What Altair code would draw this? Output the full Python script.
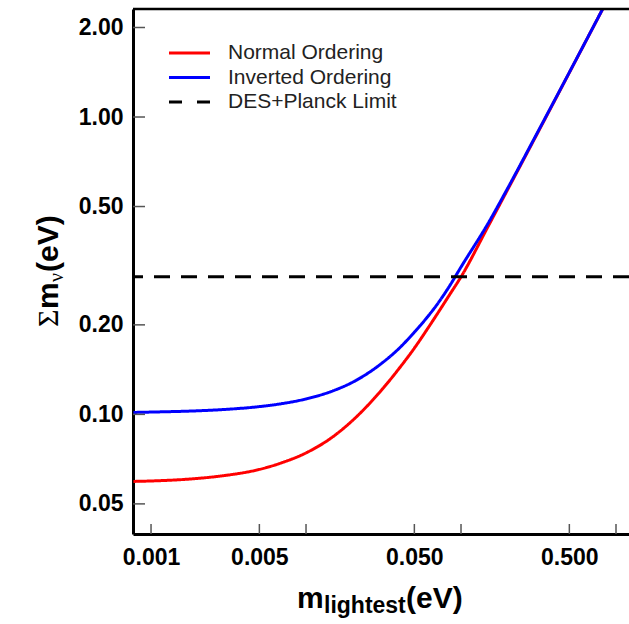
import altair as alt
import pandas as pd

# ---- data ----
m_lightest = [0.00077, 0.001, 0.002, 0.003, 0.005, 0.007, 0.01, 0.015, 0.02, 0.03,
              0.04, 0.05, 0.06, 0.07, 0.085, 0.1, 0.15, 0.2, 0.3, 0.5, 0.8, 1.2]
sum_normal = [0.0595, 0.0597, 0.0609, 0.0623, 0.0653, 0.0688, 0.0742, 0.0843, 0.0955, 0.119,
              0.143, 0.167, 0.192, 0.217, 0.254, 0.29, 0.43, 0.57, 0.85, 1.41, 2.25, 3.37]
sum_inverted = [0.1015, 0.1018, 0.1028, 0.1039, 0.1062, 0.1087, 0.1127, 0.1201, 0.1283, 0.147,
                0.167, 0.189, 0.211, 0.234, 0.272, 0.313, 0.44, 0.576, 0.855, 1.413, 2.252, 3.372]
limit_value = [0.29]

series_names = ["Normal Ordering", "Inverted Ordering", "DES+Planck Limit"]
series_colors = ["#ff0000", "#0000ff", "#000000"]
series_dashes = [[1, 0], [1, 0], [16, 11]]
legend_dashes = [[1, 0], [1, 0], [13, 15]]

x_tick_values = [0.001, 0.005, 0.01, 0.05, 0.1, 0.5, 1.0]
x_label_values = [0.001, 0.005, 0.05, 0.5]
y_tick_values = [0.05, 0.1, 0.2, 0.5, 1.0, 2.0]

# ---- layout ----
W, H = 496, 525
X_DOMAIN = [0.000765, 1.213]
Y_DOMAIN = [0.0396, 2.308]
FONT = "Liberation Sans"

curves = pd.DataFrame({
    "m": m_lightest + m_lightest,
    "s": sum_normal + sum_inverted,
    "series": [series_names[0]] * len(m_lightest) + [series_names[1]] * len(m_lightest),
})
limit_df = pd.DataFrame({"s": limit_value, "series": [series_names[2]]})

xscale = alt.Scale(type="log", domain=X_DOMAIN, nice=False)
yscale = alt.Scale(type="log", domain=Y_DOMAIN, nice=False)

color_enc = alt.Color("series:N", scale=alt.Scale(domain=series_names, range=series_colors), legend=None)
dash_enc = alt.StrokeDash("series:N", scale=alt.Scale(domain=series_names, range=series_dashes), legend=None)

axis_common = dict(
    labelFont=FONT, labelFontWeight="bold", labelFontSize=23, labelColor="#000000",
    ticks=False, domainColor="#000000", domainWidth=3, grid=False, title=None, labelFlush=False,
)

lines = alt.Chart(curves).mark_line(strokeWidth=3, clip=True, interpolate="monotone").encode(
    x=alt.X("m:Q", scale=xscale, axis=alt.Axis(values=x_label_values, format=".3f", labelPadding=12, **axis_common)),
    y=alt.Y("s:Q", scale=yscale, axis=alt.Axis(values=y_tick_values, format=".2f", labelPadding=10, **axis_common)),
    color=color_enc,
    strokeDash=dash_enc,
    detail="series:N",
)

limit = alt.Chart(limit_df).mark_rule(strokeWidth=3).encode(
    y=alt.Y("s:Q", scale=yscale),
    color=color_enc,
    strokeDash=dash_enc,
)

xticks = alt.Chart(pd.DataFrame({"m": x_tick_values})).mark_rule(color="#555555", strokeWidth=1.5).encode(
    x=alt.X("m:Q", scale=xscale), y=alt.value(H), y2=alt.value(H - 10),
)
yticks = alt.Chart(pd.DataFrame({"s": y_tick_values})).mark_rule(color="#555555", strokeWidth=1.5).encode(
    y=alt.Y("s:Q", scale=yscale), x=alt.value(0), x2=alt.value(12),
)
top_frame = alt.Chart(pd.DataFrame({"a": [0]})).mark_rule(color="#000000", strokeWidth=2.5).encode(
    x=alt.value(0), x2=alt.value(W), y=alt.value(0),
)


def txt(text, x, y, size, weight="bold", font=FONT, angle=0, align="left", baseline="alphabetic",
        color="#000000"):
    kw = dict(text=text, fontSize=size, fontWeight=weight, font=font, align=align,
              baseline=baseline, color=color)
    if angle:
        kw["angle"] = angle
    return alt.Chart(pd.DataFrame({"a": [0]})).mark_text(**kw).encode(x=alt.value(x), y=alt.value(y))


# manual legend
legend_layers = []
LEG_X0, LEG_X1, LEG_TX, LEG_Y0, LEG_DY = 36, 77, 95, 44, 24.5
for i, (name, col, dash) in enumerate(zip(series_names, series_colors, legend_dashes)):
    yy = LEG_Y0 + i * LEG_DY
    legend_layers.append(
        alt.Chart(pd.DataFrame({"a": [0]})).mark_rule(color=col, strokeWidth=3, strokeDash=dash).encode(
            x=alt.value(LEG_X0), x2=alt.value(LEG_X1), y=alt.value(yy)
        )
    )
    legend_layers.append(txt(name, LEG_TX, yy, 21, weight="normal", baseline="middle", color="#222222"))

# x title: m_lightest(eV)
xt1 = txt("m", 164, 599, 30)
xt2 = txt("lightest", 191, 604, 23)
xt3 = txt("(eV)", 273, 599, 30)
# y title: Σm_ν(eV), rotated
YB = -75
yt1 = txt("Σ", YB, 318, 30, weight="normal", font="Liberation Serif", angle=270)
yt2 = txt("m", YB, 300, 30, angle=270)
yt3 = txt("ν", YB + 5, 273, 20, weight="normal", font="Liberation Serif", angle=270)
yt4 = txt("(eV)", YB, 263, 30, angle=270)

chart = alt.layer(
    lines, limit, xticks, yticks, top_frame, *legend_layers, xt1, xt2, xt3, yt1, yt2, yt3, yt4
).properties(
    width=W, height=H, autosize="none",
    padding={"left": 133, "top": 9, "right": 0, "bottom": 90},
).configure_view(stroke=None).configure(background="white")

chart.save("out.html", embed_options={"renderer": "svg", "actions": False})
